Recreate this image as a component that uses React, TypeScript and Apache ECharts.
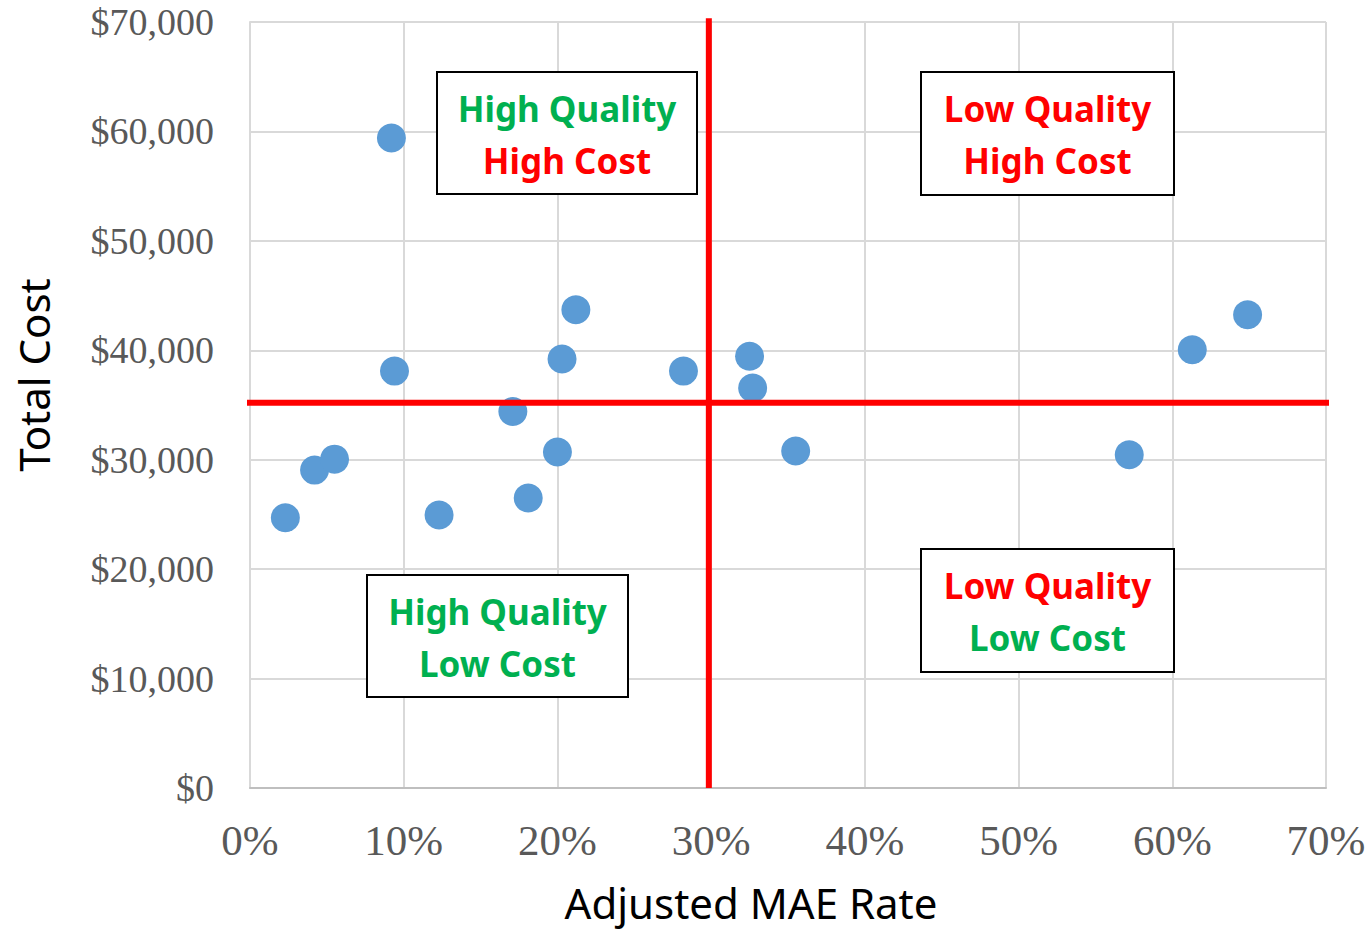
import React, { useEffect, useRef } from "react";
import * as echarts from "echarts";

const maeRate = [0.023, 0.042, 0.055, 0.092, 0.094, 0.123, 0.171, 0.181, 0.2, 0.203, 0.212, 0.282, 0.325, 0.327, 0.355, 0.572, 0.613, 0.649];
const totalCost = [24700, 29050, 30050, 59400, 38100, 24950, 34400, 26500, 30700, 39200, 43700, 38100, 39450, 36550, 30800, 30450, 40050, 43250];

const xThreshold = 0.2985;
const yThreshold = 35200;

const xTicks = [0, 0.1, 0.2, 0.3, 0.4, 0.5, 0.6, 0.7];
const yTicks = [0, 10000, 20000, 30000, 40000, 50000, 60000, 70000];

const quadrantLabels = [
  { top: "High Quality", bottom: "High Cost", topColor: "#00B050", bottomColor: "#FF0000" },
  { top: "Low Quality", bottom: "High Cost", topColor: "#FF0000", bottomColor: "#FF0000" },
  { top: "High Quality", bottom: "Low Cost", topColor: "#00B050", bottomColor: "#00B050" },
  { top: "Low Quality", bottom: "Low Cost", topColor: "#FF0000", bottomColor: "#00B050" },
];

const boxLayout = [
  { x: 437, y: 72, w: 260, h: 122 },
  { x: 921, y: 72, w: 253, h: 123 },
  { x: 367, y: 575, w: 261, h: 122 },
  { x: 921, y: 549, w: 253, h: 123 },
];

export default function App() {
  const ref = useRef<HTMLDivElement>(null);
  useEffect(() => {
    if (!ref.current) return;
    const chart = echarts.init(ref.current, null, { renderer: "svg" });
    const tickFont = "'Liberation Serif', serif";
    const sans = "'Noto Sans', sans-serif";

    const graphics: any[] = [];
    quadrantLabels.forEach((q, i) => {
      const b = boxLayout[i];
      graphics.push(
        {
          type: "rect",
          z: 100,
          shape: { x: b.x, y: b.y, width: b.w, height: b.h },
          style: { fill: "#fff", stroke: "#000", lineWidth: 2 },
        },
        {
          type: "text",
          z: 101,
          x: b.x + b.w / 2,
          y: b.y + 36,
          style: {
            text: q.top,
            fill: q.topColor,
            font: `bold 35px ${sans}`,
            textAlign: "center",
            textVerticalAlign: "middle",
          },
        },
        {
          type: "text",
          z: 101,
          x: b.x + b.w / 2,
          y: b.y + 88,
          style: {
            text: q.bottom,
            fill: q.bottomColor,
            font: `bold 35px ${sans}`,
            textAlign: "center",
            textVerticalAlign: "middle",
          },
        }
      );
    });

    chart.setOption({
      animation: false,
      grid: { left: 250, top: 22, right: 45, bottom: 142, containLabel: false },
      xAxis: {
        type: "value",
        min: xTicks[0],
        max: xTicks[xTicks.length - 1],
        interval: 0.1,
        name: "Adjusted MAE Rate",
        nameLocation: "middle",
        nameGap: 93,
        nameTextStyle: { fontFamily: sans, fontSize: 42, color: "#000", padding: [0, 74, 0, 0] },
        axisLine: { show: true, lineStyle: { color: "#BFBFBF", width: 2 } },
        axisTick: { show: false },
        splitLine: { show: true, lineStyle: { color: "#D9D9D9", width: 2 } },
        axisLabel: {
          fontFamily: tickFont,
          fontSize: 43,
          color: "#595959",
          margin: 31,
          formatter: (v: number) => `${Math.round(v * 100)}%`,
        },
      },
      yAxis: {
        type: "value",
        min: yTicks[0],
        max: yTicks[yTicks.length - 1],
        interval: 10000,
        name: "Total Cost",
        nameLocation: "middle",
        nameGap: 196,
        nameTextStyle: { fontFamily: sans, fontSize: 42, color: "#000", padding: [0, 0, 0, 60] },
        axisLine: { show: true, lineStyle: { color: "#D9D9D9", width: 2 } },
        axisTick: { show: false },
        splitLine: { show: true, lineStyle: { color: "#D9D9D9", width: 2 } },
        axisLabel: {
          fontFamily: tickFont,
          fontSize: 38,
          color: "#595959",
          margin: 36,
          formatter: (v: number) => "$" + v.toLocaleString("en-US"),
        },
      },
      series: [
        {
          type: "scatter",
          data: maeRate.map((x, i) => [x, totalCost[i]]),
          symbolSize: 29,
          itemStyle: { color: "#5B9BD5", opacity: 1 },
          z: 2,
        },
        {
          type: "line",
          data: [
            [-0.0035, yThreshold],
            [0.7058, yThreshold],
          ],
          clip: false,
          symbol: "none",
          lineStyle: { color: "#FF0000", width: 6, cap: "butt" },
          z: 5,
        },
        {
          type: "line",
          data: [
            [xThreshold, 0],
            [xThreshold, 70350],
          ],
          clip: false,
          symbol: "none",
          lineStyle: { color: "#FF0000", width: 6, cap: "butt" },
          z: 5,
        },
      ],
      graphic: graphics,
    });
    return () => chart.dispose();
  }, []);
  return (
    <div
      ref={ref}
      style={{ width: 1371, height: 930, position: "absolute", left: 0, top: 0 }}
    />
  );
}
